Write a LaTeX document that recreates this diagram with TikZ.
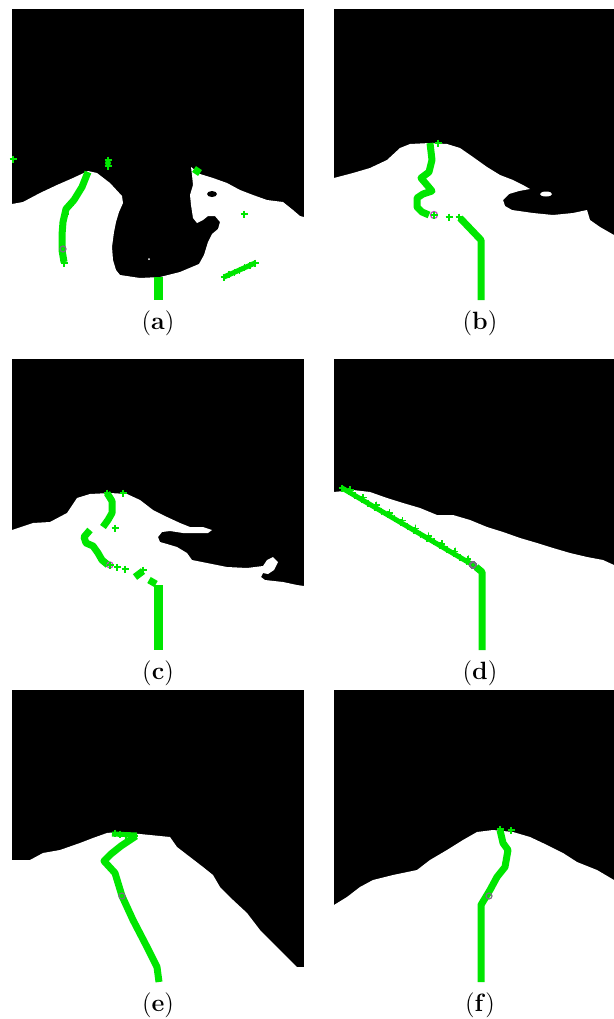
\documentclass[tikz,border=0pt]{standalone}
\usepackage{tikz}
\usetikzlibrary{calc}
\definecolor{crk}{RGB}{0,230,0}
\definecolor{tipgray}{RGB}{120,110,130}
\definecolor{tippink}{RGB}{190,70,190}
\tikzset{
  sky/.style={fill=black},
  ground/.style={fill=white},
  crack/.style={draw=crk, line width=3.5pt, line join=round},
  hair/.style={draw=crk, line width=2.5pt, line join=round},
  mk/.style={draw=crk, line width=0.8pt},
  tip/.style={draw=tipgray, line width=0.6pt},
  sublbl/.style={font=\fontsize{12.5}{15}\selectfont, inner sep=0pt}
}
\newcommand{\xmk}[1]{\draw[mk] (#1) +(-3.5,0) -- +(3.5,0) +(0,-3.5) -- +(0,3.5);}

\begin{document}
\begin{tikzpicture}[x=0.5pt, y=-0.5pt]
\useasboundingbox (0,0) rectangle (614,1019);
\fill[white] (0,0) rectangle (614,1019);

% (a)
\fill[sky] (12,9) rectangle (304,300);
\fill[ground] (12,204) -- (23,202) -- (40,193) -- (57,185) -- (73,178) -- (88,171) -- (97,173) -- (110,183) -- (122,196) -- (123,203) -- (119,212) -- (116,222) -- (114,232) -- (112,247) -- (113,260) -- (116,270) -- (120,275) -- (140,278) -- (160,277) -- (180,272) -- (199,264) -- (204,255) -- (208,242) -- (212,234) -- (218,229) -- (220,222) -- (215,216) -- (208,216) -- (203,220) -- (197,223) -- (193,218) -- (191,205) -- (190,195) -- (193,185) -- (192,175) -- (191,167) -- (200,174) -- (213,178) -- (227,183) -- (240,190) -- (253,195) -- (267,200) -- (283,202) -- (293,210) -- (300,216) -- (304,217) -- (304,300) -- (12,300) -- cycle;
\fill[sky] (212,194) ellipse[x radius=5, y radius=3];
\fill[ground] (149,259) circle[radius=1];
\xmk{13,159}
\fill[crk] (108,163) circle[radius=3]; \xmk{108,160} \xmk{108,166}
\draw[crack] (88,172) -- (82,187) -- (74,200) -- (66,209) -- (63,222) -- (62,235) -- (62,250) -- (64,262);
\xmk{64,263} \xmk{70,205} \xmk{65,214}
\draw[tip] (63,249) circle[radius=3];
\draw[crack] (194,169) -- (200,173);
\xmk{244,214}
\draw[hair] (224,277) -- (255,263);
\foreach \i in {0,...,6} \xmk{$(224,277)!\i/6!(255,263)$}
\draw[crack, line width=4.5pt] (158,277) -- (158,300);
\node[sublbl] (la) at (158,323) {(\textbf{a})};

% (b)
\fill[sky] (334,9) rectangle (614,300);
\fill[ground] (334,178) -- (353,173) -- (370,168) -- (387,160) -- (400,148) -- (410,144) -- (430,143) -- (447,144) -- (460,148) -- (473,157) -- (487,167) -- (500,175) -- (513,180) -- (523,185) -- (530,189) -- (519,191) -- (509,194) -- (503,200) -- (505,206) -- (512,210) -- (533,213) -- (553,215) -- (573,213) -- (587,210) -- (590,220) -- (600,227) -- (614,235) -- (614,300) -- (334,300) -- cycle;
\fill[ground] (546,194) ellipse[x radius=6, y radius=2.5];
\draw[crack] (430,143) -- (432,160) -- (429,172) -- (421,178) -- (427,185) -- (432,191) -- (423,194) -- (417,198) -- (417,207) -- (422,212) -- (429,215);
\xmk{438,143} \xmk{449,217} \xmk{459,217}
\draw[tip, draw=tippink] (434,215) circle[radius=3.5]; \xmk{434,215}
\draw[crack] (460,218) -- (481,240) -- (481,300);
\node[sublbl] (lb) at (480,323) {(\textbf{b})};

% (c)
\fill[sky] (12,359) rectangle (304,650);
\fill[ground] (12,530) -- (33,523) -- (50,522) -- (67,513) -- (77,498) -- (90,494) -- (110,493) -- (127,494) -- (140,500) -- (153,510) -- (167,517) -- (180,523) -- (190,527) -- (203,527) -- (212,530) -- (208,533) -- (197,533) -- (183,533) -- (170,531) -- (162,532) -- (158,537) -- (160,542) -- (167,544) -- (177,547) -- (187,553) -- (192,560) -- (207,563) -- (227,567) -- (247,568) -- (263,566) -- (267,560) -- (273,557) -- (278,562) -- (274,570) -- (268,574) -- (263,573) -- (261,577) -- (265,580) -- (283,582) -- (297,585) -- (304,586) -- (304,650) -- (12,650) -- cycle;
\draw[crack] (107,493) -- (112,501) -- (112,513) -- (108,520) -- (103,527);
\xmk{115,528} \xmk{123,493} \xmk{107,493}
\draw[crack] (90,530) -- (84,537) -- (86,543) -- (93,546) -- (98,553) -- (102,560) -- (108,565);
\draw[tip, draw=tippink] (110,565) circle[radius=3]; \xmk{110,565}
\xmk{117,567} \xmk{125,569}
\draw[crack] (135,577) -- (143,571); \xmk{143,570}
\draw[crack] (149,580) -- (156,584);
\draw[crack, line width=4.5pt] (158,585) -- (158,650);
\node[sublbl] (lc) at (158,673) {(\textbf{c})};

% (d)
\fill[sky] (334,359) rectangle (614,650);
\fill[ground] (334,492) -- (353,490) -- (370,492) -- (387,498) -- (403,503) -- (420,508) -- (437,515) -- (453,515) -- (470,520) -- (487,527) -- (503,532) -- (520,538) -- (537,543) -- (553,548) -- (570,553) -- (587,557) -- (603,560) -- (614,565) -- (614,650) -- (334,650) -- cycle;
\draw[hair] (342,488) -- (473,565);
\foreach \i in {0,...,20} \xmk{$(342,488)!\i/20!(473,565)$}
\foreach \i in {1,3,...,19} \xmk{$(342,488)!\i/20!(473,565)+(1.5,-2)$}
\draw[tip] (473,565) circle[radius=3];
\draw[crack] (476,567) -- (482,572) -- (482,650);
\node[sublbl] (ld) at (480,673) {(\textbf{d})};

% (e)
\fill[sky] (12,690) rectangle (304,982);
\fill[ground] (12,860) -- (30,860) -- (43,853) -- (60,850) -- (80,843) -- (93,838) -- (107,833) -- (117,832) -- (140,834) -- (170,837) -- (177,847) -- (190,857) -- (203,867) -- (213,875) -- (220,887) -- (233,900) -- (247,913) -- (260,930) -- (273,943) -- (287,957) -- (297,967) -- (304,967) -- (304,982) -- (12,982) -- cycle;
\draw[hair] (112,834) -- (137,835);
\xmk{115,833} \xmk{120,834} \xmk{126,835} \xmk{134,836}
\draw[crack] (136,836) -- (121,846) -- (111,854) -- (104,861) -- (115,873) -- (122,896) -- (133,920) -- (147,947) -- (157,967) -- (159,982);
\draw[tip] (122,896) circle[radius=3];
\node[sublbl] (le) at (158,1005) {(\textbf{e})};

% (f)
\fill[sky] (334,690) rectangle (614,982);
\fill[ground] (334,905) -- (347,897) -- (360,887) -- (373,880) -- (393,875) -- (417,870) -- (430,860) -- (447,850) -- (463,840) -- (477,832) -- (493,830) -- (513,832) -- (530,837) -- (547,845) -- (563,853) -- (577,862) -- (597,870) -- (614,880) -- (614,982) -- (334,982) -- cycle;
\draw[crack] (500,830) -- (503,843) -- (508,850) -- (505,867) -- (497,877) -- (490,890) -- (481,905) -- (481,982);
\xmk{511,830} \xmk{500,829}
\draw[tip] (489,896) circle[radius=3];
\node[sublbl] (lf) at (480,1005) {(\textbf{f})};
\end{tikzpicture}
\end{document}
